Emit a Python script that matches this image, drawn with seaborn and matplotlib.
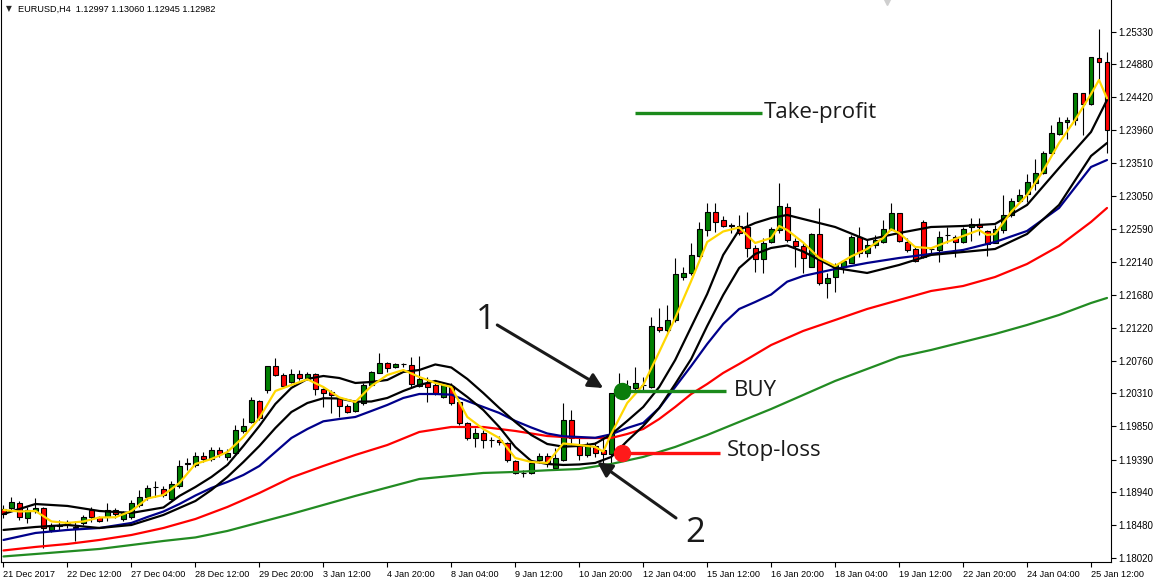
import matplotlib
matplotlib.use("Agg")
import matplotlib.pyplot as plt
import seaborn as sns
import numpy as np

# ---------------- data ----------------
SYMBOL_TITLE = "EURUSD,H4  1.12997 1.13060 1.12945 1.12982"

OPEN = [1.18705, 1.18723, 1.18792, 1.18576, 1.18681, 1.18714, 1.18413, 1.18469, 1.18511, 1.18441,
        1.18506, 1.18691, 1.18590, 1.18590, 1.18691, 1.18566, 1.18590, 1.18761, 1.18867, 1.19006,
        1.18978, 1.18840, 1.19028, 1.19330, 1.19316, 1.19441, 1.19399, 1.19524, 1.19423, 1.19478,
        1.19792, 1.19917, 1.20204, 1.20356, 1.20690, 1.20565, 1.20464, 1.20579, 1.20509, 1.20579,
        1.20371, 1.20333, 1.20242, 1.20135, 1.20065, 1.20172, 1.20426, 1.20597, 1.20727, 1.20676,
        1.20711, 1.20704, 1.20416, 1.20454, 1.20426, 1.20259, 1.20412, 1.20190, 1.19894, 1.19686,
        1.19755, 1.19662, 1.19662, 1.19625, 1.19375, 1.19200, 1.19200, 1.19385, 1.19445, 1.19270,
        1.19385, 1.19940, 1.19593, 1.19455, 1.19579, 1.19524, 1.19468, 1.20315, 1.20412, 1.20380,
        1.20426, 1.20403, 1.21235, 1.21189, 1.21328, 1.21929, 1.21976, 1.22217, 1.22577, 1.22823,
        1.22716, 1.22640, 1.22637, 1.22615, 1.22324, 1.22171, 1.22415, 1.22577, 1.22893, 1.22429,
        1.22355, 1.22068, 1.22518, 1.21838, 1.21921, 1.22068, 1.22124, 1.22485, 1.22262, 1.22369,
        1.22415, 1.22577, 1.22809, 1.22415, 1.22310, 1.22693, 1.22314, 1.22300, 1.22508, 1.22485,
        1.22415, 1.22623, 1.22661, 1.22568, 1.22401, 1.22577, 1.22786, 1.22984, 1.23077, 1.23234,
        1.23365, 1.23650, 1.23906, 1.24072, 1.24104, 1.24475, 1.24326, 1.24961, 1.24914]
HIGH = [1.18761, 1.18871, 1.18816, 1.18737, 1.18857, 1.18737, 1.18511, 1.18552, 1.18552, 1.18538,
        1.18622, 1.18737, 1.18608, 1.18784, 1.18719, 1.18677, 1.18830, 1.18969, 1.19038, 1.19098,
        1.19024, 1.19094, 1.19385, 1.19413, 1.19496, 1.19496, 1.19566, 1.19566, 1.19538, 1.19871,
        1.19968, 1.20260, 1.20218, 1.20690, 1.20801, 1.20593, 1.20648, 1.20634, 1.20607, 1.20593,
        1.20384, 1.20356, 1.20264, 1.20163, 1.20218, 1.20450, 1.20620, 1.20874, 1.20750, 1.20736,
        1.20736, 1.20819, 1.20829, 1.20541, 1.20482, 1.20450, 1.20450, 1.20204, 1.19913, 1.19829,
        1.19801, 1.19709, 1.19718, 1.19639, 1.19385, 1.19246, 1.19362, 1.19478, 1.19482, 1.19548,
        1.20172, 1.20079, 1.19709, 1.19639, 1.19639, 1.19709, 1.20319, 1.20589, 1.20495, 1.20676,
        1.20537, 1.21374, 1.21491, 1.21537, 1.22189, 1.22068, 1.22401, 1.22693, 1.22948, 1.22948,
        1.22772, 1.22675, 1.22786, 1.22832, 1.22369, 1.22462, 1.22623, 1.23226, 1.22948, 1.22462,
        1.22401, 1.22532, 1.22879, 1.21976, 1.22115, 1.22161, 1.22508, 1.22623, 1.22439, 1.22508,
        1.22716, 1.22948, 1.22818, 1.22462, 1.22342, 1.22716, 1.22346, 1.22568, 1.22623, 1.22508,
        1.22623, 1.22740, 1.22740, 1.22577, 1.22647, 1.23063, 1.23026, 1.23147, 1.23355, 1.23559,
        1.23674, 1.24035, 1.24150, 1.24150, 1.24475, 1.24475, 1.24975, 1.25363, 1.25052]
LOW = [1.18580, 1.18691, 1.18552, 1.18510, 1.18649, 1.18163, 1.18385, 1.18413, 1.18441, 1.18265,
       1.18483, 1.18529, 1.18524, 1.18543, 1.18580, 1.18538, 1.18566, 1.18733, 1.18830, 1.18876,
       1.18871, 1.18830, 1.18996, 1.19246, 1.19288, 1.19357, 1.19371, 1.19427, 1.19385, 1.19455,
       1.19760, 1.19899, 1.19940, 1.20315, 1.20551, 1.20402, 1.20450, 1.20495, 1.20495, 1.20287,
       1.20125, 1.20033, 1.19986, 1.20038, 1.20051, 1.20149, 1.20412, 1.20588, 1.20611, 1.20658,
       1.20681, 1.20402, 1.20402, 1.20195, 1.20287, 1.20246, 1.20149, 1.19870, 1.19662, 1.19570,
       1.19547, 1.19570, 1.19593, 1.19362, 1.19191, 1.19153, 1.19191, 1.19339, 1.19292, 1.19246,
       1.19376, 1.19593, 1.19385, 1.19431, 1.19431, 1.19339, 1.19339, 1.20287, 1.20301, 1.20356,
       1.20356, 1.20380, 1.21166, 1.21166, 1.21301, 1.21883, 1.21953, 1.22199, 1.22494, 1.22554,
       1.22619, 1.22536, 1.22508, 1.22199, 1.21999, 1.21976, 1.22393, 1.22532, 1.22415, 1.22068,
       1.21976, 1.22060, 1.21814, 1.21629, 1.21721, 1.21976, 1.22115, 1.22199, 1.22199, 1.22328,
       1.22393, 1.22577, 1.22415, 1.22272, 1.22133, 1.22185, 1.22230, 1.22138, 1.22393, 1.22207,
       1.22393, 1.22429, 1.22508, 1.22217, 1.22393, 1.22532, 1.22762, 1.22948, 1.22970, 1.23133,
       1.23355, 1.23642, 1.23896, 1.23841, 1.24035, 1.23896, 1.24313, 1.24659, 1.23642]
CLOSE = [1.18636, 1.18798, 1.18590, 1.18691, 1.18723, 1.18437, 1.18483, 1.18476, 1.18518, 1.18448,
         1.18590, 1.18590, 1.18538, 1.18691, 1.18631, 1.18649, 1.18784, 1.18867, 1.18996, 1.19010,
         1.18899, 1.19052, 1.19306, 1.19337, 1.19441, 1.19399, 1.19524, 1.19468, 1.19478, 1.19801,
         1.19857, 1.20218, 1.19964, 1.20690, 1.20565, 1.20416, 1.20579, 1.20519, 1.20579, 1.20366,
         1.20311, 1.20287, 1.20135, 1.20056, 1.20186, 1.20426, 1.20602, 1.20727, 1.20658, 1.20718,
         1.20713, 1.20440, 1.20505, 1.20398, 1.20311, 1.20426, 1.20172, 1.19894, 1.19686, 1.19755,
         1.19662, 1.19660, 1.19639, 1.19385, 1.19200, 1.19202, 1.19339, 1.19445, 1.19339, 1.19409,
         1.19940, 1.19690, 1.19455, 1.19593, 1.19478, 1.19468, 1.20311, 1.20412, 1.20371, 1.20450,
         1.20429, 1.21245, 1.21189, 1.21328, 1.21963, 1.21976, 1.22231, 1.22587, 1.22823, 1.22693,
         1.22637, 1.22637, 1.22532, 1.22324, 1.22171, 1.22393, 1.22587, 1.22911, 1.22439, 1.22355,
         1.22185, 1.22518, 1.21838, 1.21907, 1.22092, 1.22151, 1.22485, 1.22262, 1.22369, 1.22439,
         1.22587, 1.22818, 1.22429, 1.22300, 1.22151, 1.22199, 1.22307, 1.22485, 1.22504, 1.22415,
         1.22587, 1.22661, 1.22623, 1.22383, 1.22587, 1.22786, 1.22980, 1.23063, 1.23237, 1.23365,
         1.23650, 1.23920, 1.24072, 1.24104, 1.24475, 1.24326, 1.24975, 1.24914, 1.23966]

TIME_LABELS = ["21 Dec 2017", "22 Dec 12:00", "27 Dec 04:00", "28 Dec 12:00", "29 Dec 20:00",
               "3 Jan 12:00", "4 Jan 20:00", "8 Jan 04:00", "9 Jan 12:00", "10 Jan 20:00",
               "12 Jan 04:00", "15 Jan 12:00", "16 Jan 20:00", "18 Jan 04:00", "19 Jan 12:00",
               "22 Jan 20:00", "24 Jan 04:00", "25 Jan 12:00"]
BARS_PER_LABEL = 8

PRICE_TICKS = [1.25330, 1.24880, 1.24420, 1.23960, 1.23510, 1.23050, 1.22590, 1.22140, 1.21680,
               1.21220, 1.20760, 1.20310, 1.19850, 1.19390, 1.18940, 1.18480, 1.18020]

# moving averages: bar index -> price
YELLOW_BARS = [0, 2, 4, 6, 8, 10, 12, 14, 16, 18, 20, 22, 24, 26, 28, 30, 32, 34, 36, 38, 40, 42, 44,
               46, 48, 50, 52, 54, 56, 58, 60, 62, 64, 66, 68, 70, 72, 74, 75, 76, 78, 80, 82, 84, 86,
               88, 90, 92, 94, 96, 97, 98, 100, 102, 104, 106, 108, 110, 111, 112, 114, 116, 118, 120,
               122, 123, 124, 126, 128, 130, 132, 134, 136, 137, 138]
YELLOW = [1.18691, 1.18670, 1.18677, 1.18532, 1.18511, 1.18532, 1.18587, 1.18590, 1.18677, 1.18851,
          1.18899, 1.19066, 1.19330, 1.19399, 1.19496, 1.19704, 1.19968, 1.20343, 1.20426, 1.20505,
          1.20398, 1.20253, 1.20190, 1.20412, 1.20565, 1.20634, 1.20537, 1.20454, 1.20398, 1.19982,
          1.19815, 1.19690, 1.19413, 1.19357, 1.19344, 1.19614, 1.19593, 1.19566, 1.19500, 1.19746,
          1.20176, 1.20426, 1.20884, 1.21356, 1.21870, 1.22411, 1.22557, 1.22612, 1.22397, 1.22466,
          1.22633, 1.22577, 1.22404, 1.22189, 1.22078, 1.22210, 1.22314, 1.22466, 1.22587, 1.22536,
          1.22342, 1.22324, 1.22411, 1.22494, 1.22577, 1.22508, 1.22522, 1.22827, 1.23063, 1.23396,
          1.23785, 1.24104, 1.24465, 1.24660, 1.24406]

BLACK_BARS = [0, 4, 8, 12, 16] + list(range(20, 101, 2)) + list(range(104, 137, 4)) + [138]
BLACK_FAST = [1.18636, 1.18774, 1.18747, 1.18677, 1.18650,
              1.18726, 1.18886, 1.19010, 1.19149, 1.19316, 1.19580, 1.19857, 1.20163, 1.20385, 1.20510,
              1.20551, 1.20523, 1.20454, 1.20468, 1.20496, 1.20607, 1.20634, 1.20711, 1.20669, 1.20510,
              1.20315, 1.20107, 1.19913, 1.19732, 1.19607, 1.19570, 1.19580, 1.19611, 1.19739, 1.19927,
              1.20121, 1.20398, 1.20773, 1.21231, 1.21689, 1.22231, 1.22578, 1.22675, 1.22744, 1.22786,
              1.22730,
              1.22619, 1.22439, 1.22536, 1.22619, 1.22633, 1.22661, 1.22925, 1.23438, 1.23938, 1.24382]
BLACK_SLOW = [1.18414, 1.18455, 1.18483, 1.18441, 1.18483,
              1.18622, 1.18719, 1.18816, 1.18969, 1.19149, 1.19357, 1.19580, 1.19829, 1.20051, 1.20176,
              1.20242, 1.20239, 1.20194, 1.20197, 1.20246, 1.20343, 1.20426, 1.20482, 1.20426, 1.20260,
              1.20079, 1.19843, 1.19566, 1.19371, 1.19330, 1.19316, 1.19323, 1.19344, 1.19427, 1.19649,
              1.19857, 1.20107, 1.20440, 1.20787, 1.21245, 1.21675, 1.22050, 1.22245, 1.22328, 1.22363,
              1.22279,
              1.22050, 1.21981, 1.22092, 1.22231, 1.22272, 1.22314, 1.22522, 1.22925, 1.23605, 1.23785]

BLUE_BARS = [0, 4, 8, 12] + list(range(16, 101, 2)) + list(range(104, 137, 4)) + [138]
BLUE = [1.18275, 1.18372, 1.18414, 1.18441,
        1.18511, 1.18594, 1.18670, 1.18774, 1.18892, 1.18997, 1.19080, 1.19177, 1.19302, 1.19496,
        1.19690, 1.19815, 1.19922, 1.19954, 1.19982, 1.20065, 1.20149, 1.20246, 1.20301, 1.20301,
        1.20292, 1.20204, 1.20121, 1.20038, 1.19927, 1.19836, 1.19753, 1.19714, 1.19704, 1.19693,
        1.19742, 1.19829, 1.19899, 1.20107, 1.20398, 1.20690, 1.20995, 1.21273, 1.21481, 1.21578,
        1.21682, 1.21860, 1.21939,
        1.22036, 1.22120, 1.22189, 1.22245, 1.22300, 1.22411, 1.22564, 1.22883, 1.23452, 1.23549]

RED_BARS = list(range(0, 73, 4)) + list(range(76, 93, 2)) + list(range(96, 137, 4)) + [138]
RED = [1.18129, 1.18178, 1.18219, 1.18275, 1.18344, 1.18441, 1.18566, 1.18733, 1.18927, 1.19142,
       1.19302, 1.19455, 1.19593, 1.19774, 1.19843, 1.19843, 1.19788, 1.19718, 1.19690,
       1.19690, 1.19746, 1.19815, 1.19954, 1.20121, 1.20301, 1.20440, 1.20593, 1.20718,
       1.20981, 1.21176, 1.21328, 1.21481, 1.21606, 1.21731, 1.21800, 1.21925, 1.22106, 1.22355,
       1.22689, 1.22883]

GREEN_BARS = list(range(0, 137, 4)) + [138]
GREEN = [1.18046, 1.18080, 1.18115, 1.18150, 1.18205, 1.18261, 1.18310, 1.18400, 1.18518, 1.18636,
         1.18761, 1.18886, 1.19003, 1.19121, 1.19163, 1.19205, 1.19219, 1.19242, 1.19260, 1.19330,
         1.19427, 1.19566, 1.19732, 1.19913, 1.20093, 1.20287, 1.20482, 1.20648, 1.20815, 1.20912,
         1.21023, 1.21134, 1.21259, 1.21398, 1.21564, 1.21634]

# trade plan levels
ENTRY_BAR = 77.4
BUY_PRICE = 1.20343
STOP_PRICE = 1.19482
TAKE_PROFIT = 1.24202

# ---------------- style ----------------
sns.set_theme(style="white")
plt.rcParams["font.family"] = ["Liberation Sans", "DejaVu Sans"]

W, H = 1158, 582
fig = plt.figure(figsize=(W / 100, H / 100), dpi=100)
fig.patch.set_facecolor("white")
ax = fig.add_axes([0.5 / W, 20 / H, 1110.5 / W, 562 / H])
ax.set_facecolor("white")

n = len(OPEN)
bars = np.arange(n)
o = np.array(OPEN); c = np.array(CLOSE); hi = np.array(HIGH); lo = np.array(LOW)

# candles: wicks then bodies
ax.vlines(bars, lo, hi, color="black", linewidth=0.8, zorder=2)
up = c >= o
body_lo = np.minimum(o, c)
body_h = np.maximum(np.abs(c - o), 0.00002)
ax.bar(bars[up], body_h[up], bottom=body_lo[up], width=0.62, color="#008000",
       edgecolor="black", linewidth=0.8, zorder=3)
ax.bar(bars[~up], body_h[~up], bottom=body_lo[~up], width=0.62, color="#ff0000",
       edgecolor="black", linewidth=0.8, zorder=3)

# moving averages
lw = 1.6
sns.lineplot(x=GREEN_BARS, y=GREEN, color="#228b22", linewidth=lw, ax=ax, zorder=4)
sns.lineplot(x=RED_BARS, y=RED, color="#ff0000", linewidth=lw, ax=ax, zorder=4)
sns.lineplot(x=BLUE_BARS, y=BLUE, color="#00008b", linewidth=lw, ax=ax, zorder=4)
sns.lineplot(x=BLACK_BARS, y=BLACK_SLOW, color="black", linewidth=lw, ax=ax, zorder=4)
sns.lineplot(x=BLACK_BARS, y=BLACK_FAST, color="black", linewidth=lw, ax=ax, zorder=4)
sns.lineplot(x=YELLOW_BARS, y=YELLOW, color="#ffd700", linewidth=lw, ax=ax, zorder=5)

# trade plan: entry, stop, target
ax.plot([ENTRY_BAR, ENTRY_BAR + 12.9], [BUY_PRICE, BUY_PRICE], color="#1b8a1b", lw=2.4, zorder=6,
        solid_capstyle="butt")
ax.plot([ENTRY_BAR, ENTRY_BAR + 12.2], [STOP_PRICE, STOP_PRICE], color="#ff1010", lw=2.4, zorder=6,
        solid_capstyle="butt")
ax.plot([ENTRY_BAR + 1.6, ENTRY_BAR + 17.5], [TAKE_PROFIT, TAKE_PROFIT], color="#1b8a1b", lw=2.4,
        zorder=6, solid_capstyle="butt")
ax.plot([ENTRY_BAR], [BUY_PRICE], "o", color="#0b7d0b", markersize=11.5, zorder=7)
ax.plot([ENTRY_BAR], [STOP_PRICE], "o", color="#ff1a1a", markersize=11.5, zorder=7)

note_font = dict(family=["Open Sans", "DejaVu Sans"], color="#1a1a1a")
ax.text(ENTRY_BAR + 13.9, BUY_PRICE, "BUY", fontsize=16, va="center", ha="left", **note_font)
ax.text(ENTRY_BAR + 13.0, STOP_PRICE + 0.0003, "Stop-loss", fontsize=16, va="center", ha="left", **note_font)
ax.text(ENTRY_BAR + 17.7, TAKE_PROFIT + 0.0001, "Take-profit", fontsize=16, va="center", ha="left",
        **note_font)

arrow = dict(arrowstyle="-|>", color="#1a1a1a", lw=2.2, mutation_scale=22, shrinkA=0, shrinkB=0)
ax.annotate("", xy=(75.0, 1.20384), xytext=(61.75, 1.21259), arrowprops=arrow, zorder=8)
ax.annotate("", xy=(74.25, 1.19357), xytext=(84.1, 1.18580), arrowprops=arrow, zorder=8)
ax.text(60.25, 1.21328, "1", fontsize=25, ha="center", va="center", **note_font)
ax.text(86.5, 1.18372, "2", fontsize=25, ha="center", va="center", **note_font)

# axes
ax.set_xlim(-0.375, 138.5)
ax.set_ylim(1.17969, 1.25770)
ax.set_xlabel(""); ax.set_ylabel("")
ax.yaxis.tick_right()
ax.set_yticks(PRICE_TICKS)
ax.set_yticklabels([f"{p:.5f}" for p in PRICE_TICKS])
tick_pos = [i * BARS_PER_LABEL for i in range(len(TIME_LABELS))]
ax.set_xticks(tick_pos)
ax.set_xticklabels(TIME_LABELS, ha="left")
ax.tick_params(axis="y", which="both", direction="out", length=3.5, width=0.8, pad=2,
               labelsize=7, colors="black", right=True, left=False)
ax.tick_params(axis="x", which="both", direction="out", length=3.5, width=0.8, pad=2,
               labelsize=6.6, colors="black", bottom=True)
for lab in ax.get_xticklabels():
    lab.set_horizontalalignment("left")
for side in ["left", "right", "bottom"]:
    ax.spines[side].set_visible(True)
    ax.spines[side].set_color("black")
    ax.spines[side].set_linewidth(0.8)
ax.spines["top"].set_visible(False)
ax.grid(False)

# header
fig.text(9 / W, 1 - 9 / H, "▼", fontsize=5.5, family="DejaVu Sans", ha="center", va="center")
fig.text(18 / W, 1 - 9.5 / H, SYMBOL_TITLE, fontsize=6.6, ha="left", va="center", color="black")
ax.plot([886 / 1110.5], [1 - 2.0 / 562], marker="v", markersize=5, color="#cfcfcf",
        transform=ax.transAxes, clip_on=False, zorder=9)

fig.savefig("out.png", dpi=100, facecolor="white")
